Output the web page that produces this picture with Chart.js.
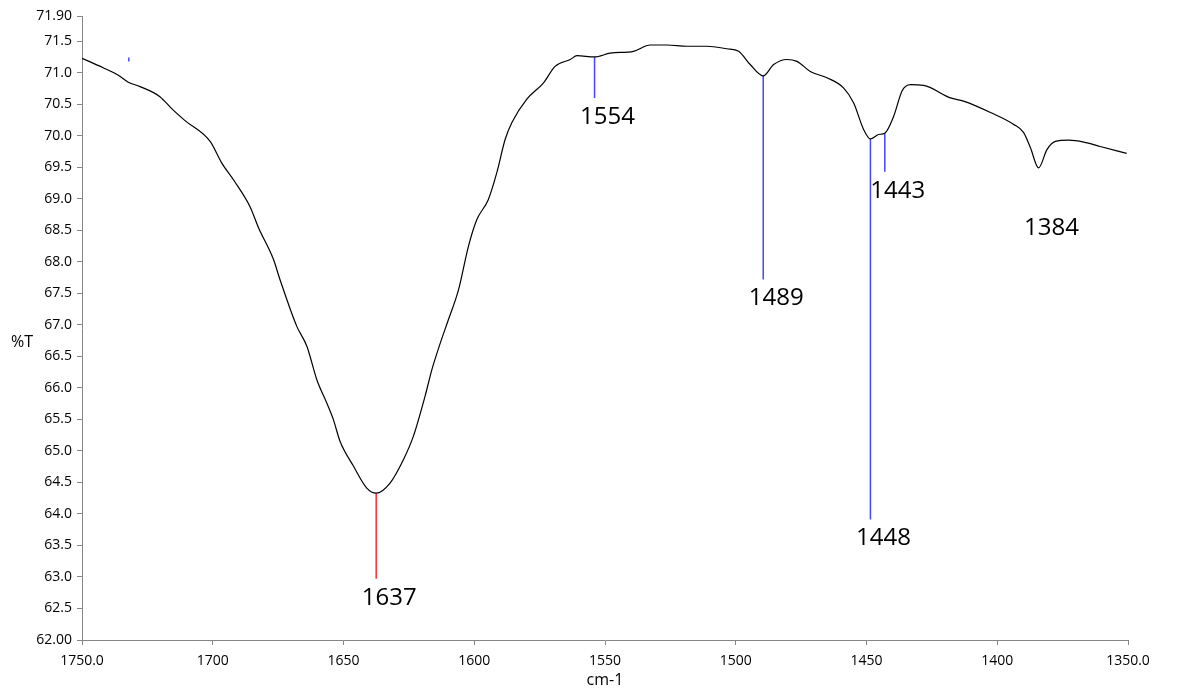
<!DOCTYPE html>
<html lang="en">
<head>
  <meta charset="UTF-8">
  <title>IR spectrum %T</title>
  <script src="https://cdn.jsdelivr.net/npm/chart.js"></script>
  <style>
    html, body { margin: 0; padding: 0; background: #fff; }
    #wrap { width: 1179px; height: 696px; }
  </style>
</head>
<body>
  <div id="wrap"><canvas id="irChart"></canvas></div>
  <script>
    // spectrum: wavenumber (cm-1) and %T
    const wavenumbers = [
      1750.0, 1741.9, 1736.1, 1732.3, 1727.8, 1720.2, 1715.7, 1710.6, 1701.0, 1696.6,
      1691.9, 1685.7, 1682.5, 1676.8, 1674.3, 1667.9, 1664.0, 1660.2, 1656.4, 1653.9,
      1651.3, 1646.2, 1641.1, 1637.5, 1632.2, 1627.1, 1623.3, 1618.8, 1616.2, 1613.0,
      1609.9, 1606.0, 1602.2, 1599.0, 1594.6, 1591.4, 1588.2, 1585.6, 1579.9, 1573.5,
      1569.1, 1563.3, 1560.7, 1554.0, 1548.0, 1539.1, 1532.7, 1526.3, 1518.7, 1511.0,
      1503.4, 1498.9, 1494.5, 1489.5, 1485.5, 1480.4, 1476.6, 1471.5, 1465.1, 1458.8,
      1454.9, 1451.1, 1448.5, 1445.4, 1443.0, 1439.6, 1436.4, 1433.2, 1428.2, 1417.9,
      1412.9, 1402.6, 1393.7, 1389.9, 1387.3, 1384.2, 1381.0, 1377.8, 1372.7, 1366.9,
      1360.6, 1350.5
    ];
    const transmittance = [
      71.23, 71.08, 70.96, 70.85, 70.78, 70.62, 70.43, 70.24, 69.91, 69.57,
      69.29, 68.87, 68.54, 68.04, 67.72, 66.98, 66.66, 66.13, 65.76, 65.50,
      65.15, 64.76, 64.41, 64.33, 64.49, 64.86, 65.23, 65.87, 66.29, 66.71,
      67.08, 67.56, 68.25, 68.67, 68.99, 69.41, 69.94, 70.21, 70.58, 70.84,
      71.10, 71.21, 71.27, 71.25, 71.31, 71.34, 71.44, 71.44, 71.42, 71.42,
      71.38, 71.34, 71.13, 70.95, 71.13, 71.21, 71.18, 71.02, 70.92, 70.76,
      70.52, 70.10, 69.95, 70.02, 70.04, 70.31, 70.71, 70.81, 70.80, 70.60,
      70.55, 70.37, 70.18, 70.05, 69.81, 69.49, 69.78, 69.91, 69.93, 69.90,
      69.83, 69.72
    ];

    const xTickValues = [1750, 1700, 1650, 1600, 1550, 1500, 1450, 1400, 1350];
    const xTickLabels = ['1750.0', '1700', '1650', '1600', '1550', '1500', '1450', '1400', '1350.0'];
    const yTickValues = [62, 62.5, 63, 63.5, 64, 64.5, 65, 65.5, 66, 66.5, 67, 67.5,
                         68, 68.5, 69, 69.5, 70, 70.5, 71, 71.5, 71.9];
    const yTickLabels = ['62.00', '62.5', '63.0', '63.5', '64.0', '64.5', '65.0', '65.5',
                         '66.0', '66.5', '67.0', '67.5', '68.0', '68.5', '69.0', '69.5',
                         '70.0', '70.5', '71.0', '71.5', '71.90'];

    // peak marker lines: wavenumber, top end (on the curve), bottom end
    const markerX = [1732.1, 1637.5, 1554.0, 1489.5, 1448.5, 1443.0];
    const markerTop = [71.24, 64.33, 71.25, 70.95, 69.95, 70.04];
    const markerBottom = [71.18, 62.97, 70.60, 67.72, 63.91, 69.43];
    const markerRed = [false, true, false, false, false, false];

    // peak labels, anchored under the marker's lower end
    const peakLabels = ['1637', '1554', '1489', '1448', '1443', '1384'];
    const peakLabelX = [1637.5, 1554.0, 1489.5, 1448.5, 1443.0, 1384.2];
    const peakLabelY = [62.97, 70.60, 67.72, 63.91, 69.43, 68.83];

    const FONT = '"Open Sans", "Noto Sans", sans-serif';
    const AXIS = '#868686';

    const markerSets = markerX.map((mx, i) => ({
      data: [{ x: mx, y: markerTop[i] }, { x: mx, y: markerBottom[i] }],
      borderColor: markerRed[i] ? '#ff2a2a' : '#4646ff',
      borderWidth: 1.5,
      pointRadius: 0,
      tension: 0,
    }));

    const peakText = {
      id: 'peakText',
      afterDatasetsDraw(chart) {
        const { ctx, chartArea } = chart;
        const x = chart.scales.x, y = chart.scales.y;
        ctx.save();
        ctx.fillStyle = '#000';
        ctx.font = '24px ' + FONT;
        ctx.textAlign = 'center';
        ctx.textBaseline = 'middle';
        peakLabels.forEach((t, i) => {
          ctx.fillText(t, x.getPixelForValue(peakLabelX[i]) + 13, y.getPixelForValue(peakLabelY[i]) + 19);
        });
        // y title is horizontal in the original
        ctx.font = '16px ' + FONT;
        ctx.textAlign = 'left';
        ctx.fillText('%T', 11, (chartArea.top + chartArea.bottom) / 2 + 14);
        ctx.restore();
      }
    };

    const ctx = document.getElementById('irChart').getContext('2d');
    new Chart(ctx, {
      type: 'line',
      data: {
        datasets: [
          {
            data: wavenumbers.map((w, i) => ({ x: w, y: transmittance[i] })),
            borderColor: '#000',
            borderWidth: 1.2,
            pointRadius: 0,
            cubicInterpolationMode: 'monotone',
          },
          ...markerSets,
        ],
      },
      options: {
        responsive: true,
        maintainAspectRatio: false,
        animation: false,
        layout: { padding: { top: 16, right: 51, bottom: 0, left: 0 } },
        plugins: { legend: { display: false }, tooltip: { enabled: false } },
        scales: {
          x: {
            type: 'linear',
            reverse: true,
            min: 1350,
            max: 1750,
            afterBuildTicks: (scale) => { scale.ticks = xTickValues.map(v => ({ value: v })); },
            afterFit: (scale) => { scale.height = 56; },
            ticks: {
              autoSkip: false,
              maxRotation: 0,
              padding: 8,
              color: '#000',
              font: { family: FONT, size: 14 },
              callback: (v, i) => xTickLabels[i],
            },
            grid: { drawOnChartArea: false, drawTicks: true, tickLength: 5, color: AXIS },
            border: { color: AXIS, width: 1 },
            title: {
              display: true,
              text: 'cm-1',
              color: '#000',
              font: { family: FONT, size: 16 },
              padding: { top: 0, bottom: 6 },
            },
          },
          y: {
            type: 'linear',
            min: 62,
            max: 71.9,
            afterBuildTicks: (scale) => { scale.ticks = yTickValues.map(v => ({ value: v })); },
            afterFit: (scale) => { scale.width = 82; },
            ticks: {
              autoSkip: false,
              padding: 5,
              color: '#000',
              font: { family: FONT, size: 14 },
              callback: (v, i) => yTickLabels[i],
            },
            grid: { drawOnChartArea: false, drawTicks: true, tickLength: 5, color: AXIS },
            border: { color: AXIS, width: 1 },
          },
        },
      },
      plugins: [peakText],
    });
  </script>
</body>
</html>
